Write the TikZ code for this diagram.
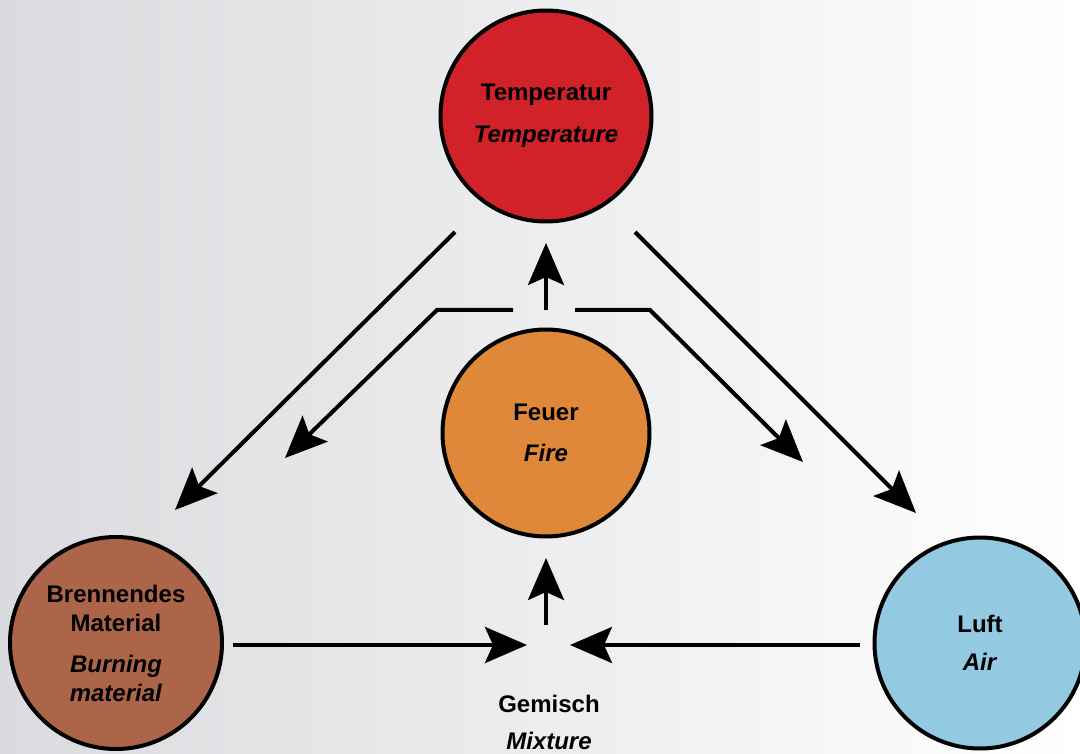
\documentclass[tikz,border=0pt]{standalone}
\usepackage{fontspec}
\setmainfont{Liberation Sans}
\usetikzlibrary{arrows.meta}
\definecolor{cred}{HTML}{D12229}
\definecolor{corange}{HTML}{E0883A}
\definecolor{cbrown}{HTML}{AC6548}
\definecolor{cblue}{HTML}{93C9E1}
\definecolor{bgleft}{HTML}{DADBDE}
\tikzset{
  ball/.style={circle, draw=black, line width=4pt, minimum size=#1, inner sep=0pt, align=center,
    font=\fontsize{24}{29}\selectfont\bfseries},
  lbl/.style={align=center, font=\fontsize{24}{29}\selectfont\bfseries},
  conn/.style={line width=4pt, -{Stealth[length=42pt,width=36pt,inset=8pt]}},
}
\begin{document}
\begin{tikzpicture}[x=1pt,y=-1pt]
\useasboundingbox (0,0) rectangle (1080,754);
\clip (0,0) rectangle (1080,754);
\shade[left color=bgleft, right color=white] (0,0) rectangle (1080,754);

\node[ball=211pt, fill=cred] (temp) at (546,116) {Temperatur\\[13pt]\textit{Temperature}};
\node[ball=207pt, fill=corange] (fire) at (546,433) {Feuer\\[12pt]\textit{Fire}};
\node[ball=212pt, fill=cbrown] (burn) at (116,643) {Brennendes\\Material\\[12pt]\textit{Burning}\\\textit{material}};
\node[ball=211pt, fill=cblue] (air) at (980,643) {Luft\\[9pt]\textit{Air}};
\node[lbl] (mix) at (549,722) {Gemisch\\[8pt]\textit{Mixture}};

% coordinates for connector ends
\coordinate (t1) at (455,232);
\coordinate (b1) at (175,510);
\coordinate (t2) at (635,232);
\coordinate (a1) at (916,513);
\coordinate (fl) at (513,310);
\coordinate (flk) at (437,310);
\coordinate (flt) at (285,458);
\coordinate (fr) at (575,310);
\coordinate (frk) at (650,310);
\coordinate (frt) at (803,462);
\coordinate (fu) at (546,310);
\coordinate (fut) at (546,243);
\coordinate (mu) at (546,625);
\coordinate (mut) at (546,558);
\coordinate (bl) at (233,645);
\coordinate (blt) at (527,645);
\coordinate (ar) at (860,645);
\coordinate (art) at (570,645);

\draw[conn] (t1) -- (b1);
\draw[conn] (t2) -- (a1);
\draw[conn] (fl) -- (flk) -- (flt);
\draw[conn] (fr) -- (frk) -- (frt);
\draw[conn] (fu) -- (fut);
\draw[conn] (mu) -- (mut);
\draw[conn] (bl) -- (blt);
\draw[conn] (ar) -- (art);
\end{tikzpicture}
\end{document}
